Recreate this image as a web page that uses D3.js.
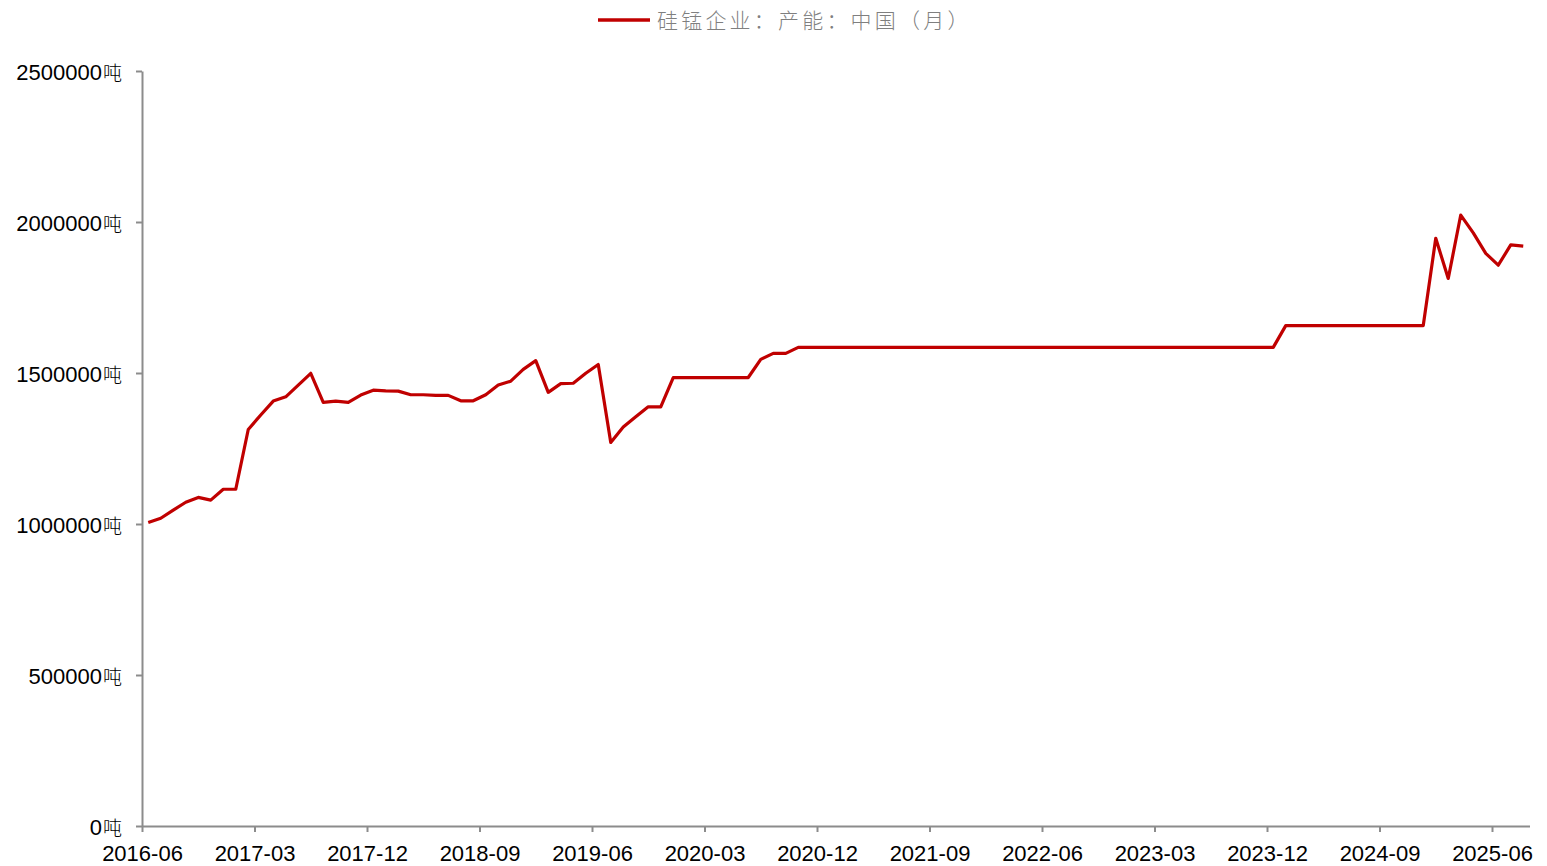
<!DOCTYPE html>
<html>
<head>
<meta charset="utf-8">
<script src="https://cdn.jsdelivr.net/npm/d3@7"></script>
<style>
    body { margin: 0; background: #fff; }
    svg { display: block; }
</style>
</head>
<body>
<div id="plot"></div>
<script>
//Data: monthly capacity from 2016-06 to 2025-08
const startMonth = "2016-06";
const capacity = [
    1005000, 1019000, 1046000, 1072000, 1088000, 1079000, 1115000, 1115000, 1313000, 1361000,
    1407000, 1421000, 1460000, 1499000, 1403000, 1407000, 1403000, 1427000, 1443000, 1441000,
    1440000, 1428000, 1428000, 1426000, 1426000, 1408000, 1408000, 1428000, 1460000, 1473000,
    1512000, 1541000, 1436000, 1465000, 1466000, 1499000, 1528000, 1270000, 1321000, 1355000,
    1388000, 1388000, 1485000, 1485000, 1485000, 1485000, 1485000, 1485000, 1485000, 1545000,
    1565000, 1565000, 1585000, 1585000, 1585000, 1585000, 1585000, 1585000, 1585000, 1585000,
    1585000, 1585000, 1585000, 1585000, 1585000, 1585000, 1585000, 1585000, 1585000, 1585000,
    1585000, 1585000, 1585000, 1585000, 1585000, 1585000, 1585000, 1585000, 1585000, 1585000,
    1585000, 1585000, 1585000, 1585000, 1585000, 1585000, 1585000, 1585000, 1585000, 1585000,
    1585000, 1657000, 1657000, 1657000, 1657000, 1657000, 1657000, 1657000, 1657000, 1657000,
    1657000, 1657000, 1657000, 1946000, 1813000, 2023000, 1964000, 1896000, 1857000, 1924000,
    1920000
];
//Tick labels on the x axis (every 9 months)
const xTickLabels = ["2016-06", "2017-03", "2017-12", "2018-09", "2019-06", "2020-03",
    "2020-12", "2021-09", "2022-06", "2023-03", "2023-12", "2024-09", "2025-06"];
const yTicks = [0, 500000, 1000000, 1500000, 2000000, 2500000];
const seriesName = "硅锰企业：产能：中国（月）";
const unit = "吨";

const w = 1547;
const h = 866;
const margin = { left: 142, right: 17.5, top: 71, bottom: 40 };

const svg = d3.select("#plot")
    .append("svg")
    .attr("width", w)
    .attr("height", h);

//Month index scale, points sit in the middle of each month slot
const x = d3.scaleLinear()
    .domain([0, capacity.length])
    .range([margin.left, w - margin.right]);

const y = d3.scaleLinear()
    .domain([0, 2500000])
    .range([h - margin.bottom, margin.top]);

const axisColor = "#8c8c8c";
const textFont = "'Liberation Sans', Arial, sans-serif";

//X axis, ticks at month slot edges
const xAxis = d3.axisBottom(x)
    .tickValues(xTickLabels.map((d, i) => i * 9))
    .tickFormat((d, i) => xTickLabels[i])
    .tickSize(6)
    .tickSizeOuter(0);

const gx = svg.append("g")
    .attr("transform", "translate(0," + (h - margin.bottom) + ")")
    .call(xAxis);
gx.select(".domain").attr("stroke", axisColor).attr("stroke-width", 2);
gx.selectAll(".tick line").attr("stroke", axisColor).attr("stroke-width", 2);
gx.selectAll(".tick text")
    .attr("fill", "#000")
    .attr("font-family", textFont)
    .attr("font-size", 22)
    .attr("dy", 0)
    .attr("y", 35);

//Y axis
const yAxis = d3.axisLeft(y)
    .tickValues(yTicks)
    .tickFormat("")
    .tickSize(6)
    .tickSizeOuter(0);

const gy = svg.append("g")
    .attr("transform", "translate(" + margin.left + ",0)")
    .call(yAxis);
gy.select(".domain").attr("stroke", axisColor).attr("stroke-width", 2);
gy.selectAll(".tick line").attr("stroke", axisColor).attr("stroke-width", 2);

//Y labels: number plus the unit in a lighter CJK glyph
const yLab = gy.selectAll(".tick")
    .append("text")
    .attr("x", -20)
    .attr("y", 8)
    .attr("text-anchor", "end")
    .attr("fill", "#000")
    .attr("font-family", textFont)
    .attr("font-size", 22);
yLab.append("tspan").text(d => d);
yLab.append("tspan")
    .attr("dx", 1)
    .attr("font-family", "'Noto Sans CJK SC', sans-serif")
    .attr("font-weight", 300)
    .attr("font-size", 19)
    .text(unit);

//The line
const line = d3.line()
    .x((d, i) => x(i + 0.5))
    .y(d => y(d));

svg.append("path")
    .datum(capacity)
    .attr("fill", "none")
    .attr("stroke", "#c00000")
    .attr("stroke-width", 3.2)
    .attr("stroke-linejoin", "round")
    .attr("d", line);

//Legend at the top
const legend = svg.append("g");
legend.append("line")
    .attr("x1", 598).attr("x2", 650)
    .attr("y1", 20).attr("y2", 20)
    .attr("stroke", "#c00000")
    .attr("stroke-width", 3.5);
legend.append("text")
    .attr("x", 657)
    .attr("y", 21)
    .attr("dy", "0.35em")
    .attr("fill", "#7f7f7f")
    .attr("font-family", "'Noto Sans CJK SC', sans-serif")
    .attr("font-weight", 300)
    .attr("font-size", 21)
    .attr("letter-spacing", 3.2)
    .text(seriesName);
</script>
</body>
</html>
